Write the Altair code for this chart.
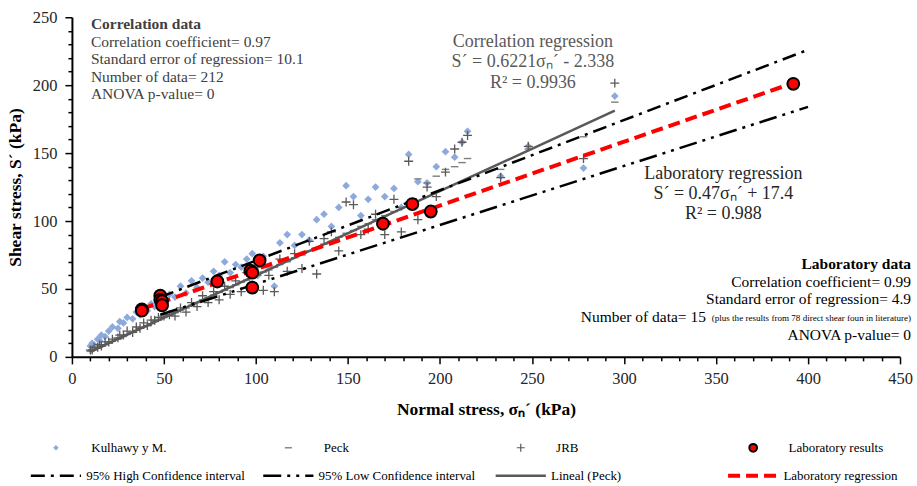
import altair as alt
import pandas as pd

# ---------------- data ----------------
sigma = [10, 11, 12, 14, 15, 16, 18, 20, 22, 25,
         26, 28, 30, 33, 35, 37, 39, 41, 43, 45,
         47, 50, 53, 56, 59, 62, 65, 68, 71, 74,
         77, 80, 83, 86, 89, 92, 95, 98, 101, 104,
         107, 110, 113, 117, 121, 125, 129, 133, 137, 141,
         145, 149, 153, 157, 161, 165, 170, 175, 179, 183,
         188, 193, 198, 203, 208, 212, 215, 233, 248, 278, 295]
kulhawy = [8, 10, 9, 13, 12, 16, 15, 19, 22, 21,
           26, 25, 29, 28, 33, 31, 37, 34, 39, 37,
           42, 40, 46, 44, 52, 47, 56, 51, 58, 55,
           63, 60, 70, 62, 68, 66, 72, 76, 60, 74,
           66, 52, 84, 90, 82, 90, 86, 101, 105, 96,
           110, 126, 118, 104, 116, 125, 118, 124, 110, 149,
           129, 128, 140, 151, 147, 158, 166, 133, 155, 139, 192]
peck = [4, 5, 5.5, 6.5, 7, 8, 9, 10, 11.5, 13,
        14, 15, 16.5, 18, 19.5, 21, 22, 23, 24.5, 26,
        27, 29, 30.5, 32.5, 34.5, 36, 38, 40, 42, 43.5,
        45.5, 47.5, 49, 51, 53, 55, 56.5, 58.5, 60, 62.5,
        64, 66, 68, 70, 73, 75, 78, 80, 83, 85,
        88, 91, 93, 96, 98, 101, 104, 107, 110, 114,
        131, 128, 133, 138, 140, 143, 146, 138, 153, 162, 187.5]
jrb = [5, 5, 7, 7, 9, 8, 11, 11, 13, 14,
       16, 16, 19, 18, 22, 21, 25, 23, 27, 27,
       29, 30, 31, 30, 36, 33, 40, 37, 45, 40,
       48, 42, 52, 46, 56, 48, 62, 53, 66, 49,
       60, 48, 72, 63, 76, 65, 85, 61, 87, 92,
       78, 114, 112, 90, 94, 105, 90, 116, 92, 144,
       101, 125, 118, 136, 153, 158, 163, 132, 155, 146, 201.5]

lab_x = [38, 38, 48, 48, 49, 49, 79, 97, 98, 98, 102, 169, 185, 195, 392]
lab_y = [35, 34, 45, 42, 41, 38, 55.5, 63.5, 62, 51, 71, 98, 112.5, 107, 201]

corr_x = [10, 295]
corr_y = [3.9, 181.2]
labreg_x = [38, 392]
labreg_y = [35.3, 201.6]
high_x = [48, 398]
high_y = [44, 225]
low_x = [48, 400]
low_y = [31, 184]

legend_labels = ["Kulhawy y M.", "Peck", "JRB", "Laboratory results",
                 "95% High Confidence interval", "95% Low Confidence interval",
                 "Lineal (Peck)", "Laboratory regression"]
legend_col = [0, 1, 2, 3, 0, 1, 2, 3]
legend_row = [0, 0, 0, 0, 1, 1, 1, 1]

corr_title = ["Correlation data"]
corr_lines = ["Correlation coefficient= 0.97", "Standard error of regression= 10.1",
              "Number of data= 212", "ANOVA p-value= 0"]
corr_reg = ["Correlation regression", "S´ = 0.6221σₙ´ - 2.338", "R² = 0.9936"]
lab_reg = ["Laboratory regression", "S´ = 0.47σₙ´ + 17.4", "R² = 0.988"]
lab_title = ["Laboratory data"]
lab_lines = ["Correlation coefficient= 0.99", "Standard error of regression= 4.9",
             "Number of data= 15", "ANOVA p-value= 0"]
lab_small = ["(plus the results from 78 direct shear foun in literature)"]

# ---------------- styles ----------------
FONT = "Liberation Serif"
BLUE = "#8EA9DB"
GRAY = "#7F7F7F"
DGRAY = "#595959"
DASH_HIGH = [14, 6, 3, 6]
DASH_LOW = [18, 6, 3, 6, 3, 6]
DASH_LAB = [12, 6]

xs = alt.Scale(domain=[0, 450], nice=False)
ys = alt.Scale(domain=[0, 250], nice=False)
major = "datum.value % 50 === 0"

x_axis = alt.Axis(values=list(range(0, 451, 10)), labelExpr=f"{major} ? datum.label : ''",
                  title="Normal stress, σₙ´ (kPa)", grid=False, labelOverlap=False,
                  tickSize={"condition": {"test": major, "value": 7}, "value": 4},
                  tickColor="black", tickWidth=1.5, domainColor="black", domainWidth=2,
                  labelFont=FONT, labelFontSize=16.5, labelColor="#262626", labelPadding=7,
                  titleFont=FONT, titleFontSize=17.5, titleFontWeight="bold", titleColor="black",
                  titlePadding=13, labelFlush=False)
y_axis = alt.Axis(values=list(range(0, 251, 10)), labelExpr=f"{major} ? datum.label : ''",
                  title="Shear stress, S´ (kPa)", grid=False, labelOverlap=False,
                  tickSize={"condition": {"test": major, "value": 7}, "value": 4},
                  tickColor="black", tickWidth=1.5, domainColor="black", domainWidth=2,
                  labelFont=FONT, labelFontSize=16.5, labelColor="#262626", labelPadding=8,
                  titleFont=FONT, titleFontSize=17.5, titleFontWeight="bold", titleColor="black",
                  titlePadding=8, labelFlush=False)


def X(f):
    return alt.X(f, type="quantitative", scale=xs, axis=x_axis)


def Y(f):
    return alt.Y(f, type="quantitative", scale=ys, axis=y_axis)


scatter = pd.DataFrame({"sigma": sigma, "Kulhawy": kulhawy, "Peck": peck, "JRB": jrb})
lab = pd.DataFrame({"x": lab_x, "y": lab_y})


def line_df(xv, yv):
    return pd.DataFrame({"x": xv, "y": yv})


k_layer = alt.Chart(scatter).mark_point(shape="diamond", filled=True, color=BLUE, size=60,
                                        opacity=1).encode(x=X("sigma"), y=Y("Kulhawy"))
p_layer = alt.Chart(scatter).mark_point(shape="M-1,0L1,0", filled=False, color=GRAY,
                                        strokeWidth=1.4, size=56, opacity=1).encode(x=X("sigma"), y=Y("Peck"))
j_layer = alt.Chart(scatter).mark_point(shape="M-1,0L1,0M0,-1L0,1", filled=False, color=DGRAY,
                                        strokeWidth=1.3, size=80, opacity=1).encode(x=X("sigma"), y=Y("JRB"))

corr_line = alt.Chart(line_df(corr_x, corr_y)).mark_line(color=DGRAY, strokeWidth=2.5).encode(x=X("x"), y=Y("y"))
high_line = alt.Chart(line_df(high_x, high_y)).mark_line(color="black", strokeWidth=2.5,
                                                         strokeDash=DASH_HIGH).encode(x=X("x"), y=Y("y"))
low_line = alt.Chart(line_df(low_x, low_y)).mark_line(color="black", strokeWidth=2.5,
                                                      strokeDash=DASH_LOW).encode(x=X("x"), y=Y("y"))
lab_line = alt.Chart(line_df(labreg_x, labreg_y)).mark_line(color="#FF0000", strokeWidth=4,
                                                            strokeDash=DASH_LAB).encode(x=X("x"), y=Y("y"))
lab_pts = alt.Chart(lab).mark_circle(color="#FF0000", stroke="black", strokeWidth=2, size=140,
                                     opacity=1).encode(x=X("x"), y=Y("y"))


def text_layer(texts, xv, yv, align, size, color, weight="normal"):
    df = pd.DataFrame({"x": xv, "y": yv, "t": texts})
    return alt.Chart(df).mark_text(align=align, baseline="middle", font=FONT, fontSize=size,
                                   color=color, fontWeight=weight).encode(x=X("x"), y=Y("y"), text="t:N")


texts = [
    text_layer(corr_title, [10.3], [245], "left", 15.5, "#404040", "bold"),
    text_layer(corr_lines, [10.3] * 4, [232, 219, 206.3, 193.4], "left", 15.5, "#404040"),
    text_layer(corr_reg, [250.5] * 3, [231.6, 216.9, 201.5], "center", 18, DGRAY),
    text_layer(lab_reg, [354] * 3, [134.6, 119.9, 105.1], "center", 18, "#262626"),
    text_layer(lab_title, [456], [68.4], "right", 15.5, "black", "bold"),
    text_layer(lab_lines, [456, 456, 344.5, 456], [55.1, 42.3, 29.4, 16.2], "right", 15.5, "black"),
    text_layer(lab_small, [456], [28.4], "right", 9.1, "black"),
]

main = alt.layer(k_layer, p_layer, j_layer, corr_line, high_line, low_line, lab_line, lab_pts,
                 *texts).properties(width=829, height=340)

# ---------------- legend ----------------
leg = pd.DataFrame({"label": legend_labels, "col": legend_col, "row": legend_row})
lx = alt.Scale(domain=[0, 3], range=[-16, 682])
ly = alt.Scale(domain=[0, 1], range=[6, 34])
base = alt.Chart(leg)


def sym(label, **mk):
    return base.transform_filter(alt.datum.label == label).mark_point(opacity=1, **mk).encode(
        x=alt.X("col:Q", scale=lx, axis=None), y=alt.Y("row:Q", scale=ly, axis=None))


def seg(label, **mk):
    return base.transform_filter(alt.datum.label == label).transform_calculate(
        x1="datum.col - 0.108", x2="datum.col + 0.108").mark_rule(**mk).encode(
        x=alt.X("x1:Q", scale=lx, axis=None), x2="x2:Q", y=alt.Y("row:Q", scale=ly, axis=None))


leg_layers = [
    sym("Kulhawy y M.", shape="diamond", filled=True, color=BLUE, size=30),
    sym("Peck", shape="M-1,0L1,0", filled=False, color=GRAY, strokeWidth=1.4, size=50),
    sym("JRB", shape="M-1,0L1,0M0,-1L0,1", filled=False, color=DGRAY, strokeWidth=1.2, size=64),
    sym("Laboratory results", shape="circle", filled=True, fill="#FF0000", stroke="black",
        strokeWidth=2, size=60),
    seg("95% High Confidence interval", color="black", strokeWidth=2.5, strokeDash=DASH_HIGH),
    seg("95% Low Confidence interval", color="black", strokeWidth=2.5, strokeDash=DASH_LOW),
    seg("Lineal (Peck)", color=DGRAY, strokeWidth=2.5),
    seg("Laboratory regression", color="#FF0000", strokeWidth=4, strokeDash=DASH_LAB),
    base.transform_calculate(tx="datum.row == 0 ? datum.col + 0.152 : datum.col + 0.13").mark_text(
        align="left", baseline="middle", font=FONT, fontSize=13, color="black").encode(
        x=alt.X("tx:Q", scale=lx, axis=None), y=alt.Y("row:Q", scale=ly, axis=None), text="label:N"),
]
legend = alt.layer(*leg_layers).properties(width=829, height=40)

chart = alt.vconcat(main, legend, spacing=22).properties(
    padding={"left": 6, "top": 9, "right": 4, "bottom": 0}
).configure_view(stroke=None)

chart.save("out.html", embed_options={"renderer": "svg", "actions": False})
